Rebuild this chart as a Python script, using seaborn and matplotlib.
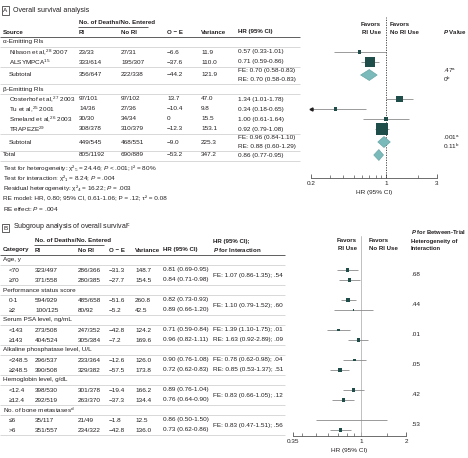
import matplotlib
matplotlib.use("Agg")
import matplotlib.pyplot as plt
import seaborn as sns
import numpy as np

# ── Panel A data (overall survival) ──
alpha_src = ["Nilsson et al,$^{28}$ 2007", "ALSYMPCA$^{15}$"]
alpha_ri = ["23/33", "333/614"]
alpha_nori = ["27/31", "195/307"]
alpha_oe = ["−6.6", "−37.6"]
alpha_var = [11.9, 110.0]
alpha_hr = [0.57, 0.71]
alpha_lo = [0.33, 0.59]
alpha_hi = [1.01, 0.86]
alpha_sub = ["356/647", "222/338", "−44.2", "121.9"]
alpha_fe = [0.70, 0.58, 0.83]
alpha_re = [0.70, 0.58, 0.83]
alpha_p = [".47$^\\mathrm{a}$", "0$^\\mathrm{b}$"]

beta_src = ["Oosterhof et al,$^{27}$ 2003", "Tu et al,$^{25}$ 2001",
            "Smeland et al,$^{26}$ 2003", "TRAPEZE$^{29}$"]
beta_ri = ["97/101", "14/36", "30/30", "308/378"]
beta_nori = ["97/102", "27/36", "34/34", "310/379"]
beta_oe = ["13.7", "−10.4", "0", "−12.3"]
beta_var = [47.0, 9.8, 15.5, 153.1]
beta_hr = [1.34, 0.34, 1.00, 0.92]
beta_lo = [1.01, 0.18, 0.61, 0.79]
beta_hi = [1.78, 0.65, 1.64, 1.08]
beta_sub = ["449/545", "468/551", "−9.0", "225.3"]
beta_fe = [0.96, 0.84, 1.10]
beta_re = [0.88, 0.60, 1.29]
beta_p = [".001$^\\mathrm{a}$", "0.11$^\\mathrm{b}$"]

total_row = ["805/1192", "690/889", "−53.2", "347.2"]
total_hr = [0.86, 0.77, 0.95]

a_notes = [
    "Test for heterogeneity: χ²₅ = 24.46; $P$ < .001; I² = 80%",
    "Test for interaction: χ²₁ = 8.24; $P$ = .004",
    "Residual heterogeneity: χ²₄ = 16.22; $P$ = .003",
    "RE model: HR, 0.80; 95% CI, 0.61-1.06; P = .12; τ² = 0.08",
    "RE effect: $P$ = .004",
]

# ── Panel B data (subgroups) ──
b_groups = ["Age, y", "Performance status score", "Serum PSA level, ng/mL",
            "Alkaline phosphatase level, U/L", "Hemoglobin level, g/dL",
            "No. of bone metastases$^\\mathrm{d}$"]
b_levels = ["<70", "≥70", "0-1", "≥2", "<143", "≥143", "<248.5", "≥248.5",
            "<12.4", "≥12.4", "≤6", ">6"]
b_ri = ["323/497", "371/558", "594/929", "100/125", "273/508", "404/524",
        "296/537", "390/508", "398/530", "292/519", "35/117", "351/557"]
b_nori = ["286/366", "280/385", "485/658", "80/92", "247/352", "305/384",
          "233/364", "329/382", "301/378", "263/370", "21/49", "234/322"]
b_oe = ["−31.3", "−27.7", "−51.6", "−5.2", "−42.8", "−7.2",
        "−12.6", "−57.5", "−19.4", "−37.3", "−1.8", "−42.8"]
b_var = [148.7, 154.5, 260.8, 42.5, 124.2, 169.6, 126.0, 173.8, 166.2, 134.4, 12.5, 136.0]
b_hr = [0.81, 0.84, 0.82, 0.89, 0.71, 0.96, 0.90, 0.72, 0.89, 0.76, 0.86, 0.73]
b_lo = [0.69, 0.71, 0.73, 0.66, 0.59, 0.82, 0.76, 0.62, 0.76, 0.64, 0.50, 0.62]
b_hi = [0.95, 0.98, 0.93, 1.20, 0.84, 1.11, 1.08, 0.83, 1.04, 0.90, 1.50, 0.86]
b_inter = [["FE: 1.07 (0.86-1.35); .54"], ["FE: 1.10 (0.79-1.52); .60"],
           ["FE: 1.39 (1.10-1.75); .01", "RE: 1.63 (0.92-2.89); .09"],
           ["FE: 0.78 (0.62-0.98); .04", "RE: 0.85 (0.53-1.37); .51"],
           ["FE: 0.83 (0.66-1.05); .12"], ["FE: 0.83 (0.47-1.51); .56"]]
b_phet = [".68", ".44", ".01", ".05", ".42", ".53"]

# ── style ──
sns.set_theme(style="white")
FONT = "Liberation Sans"
plt.rcParams["font.family"] = [FONT, "DejaVu Sans"]
plt.rcParams["mathtext.fontset"] = "custom"
plt.rcParams["mathtext.rm"] = FONT
plt.rcParams["mathtext.it"] = FONT + ":italic"
plt.rcParams["mathtext.bf"] = FONT + ":bold"
plt.rcParams["mathtext.bfit"] = FONT + ":italic:bold"

TXT = "#231f20"
SQ = "#1f4d4a"
DIA = "#7bbaba"
GRID = "#c9c9c9"
FS = 4.6     # body text
HFS = 4.4    # bold headers

W, H = 468, 458
fig = plt.figure(figsize=(W / 100, H / 100), dpi=100)
ax = fig.add_axes([0, 0, 1, 1])
ax.set_xlim(0, W)
ax.set_ylim(H, 0)
ax.axis("off")


def t(x, y, s, bold=False, ha="left", size=None):
    if size is None:
        size = HFS if bold else FS
    ax.text(x, y, s, fontsize=size, color=TXT, ha=ha, va="center",
            fontweight="bold" if bold else "normal")


def hline(y, x0, x1, dark=False):
    ax.plot([x0, x1], [y, y], color="#444444" if dark else GRID,
            lw=0.6 if dark else 0.5, solid_capstyle="butt")


def forest_ax(x0, x1, y0, y1):
    fa = fig.add_axes([x0 / W, 1 - y1 / H, (x1 - x0) / W, (y1 - y0) / H])
    fa.set_facecolor("none")
    for s in ["top", "right", "left"]:
        fa.spines[s].set_visible(False)
    fa.spines["bottom"].set_color("#555555")
    fa.spines["bottom"].set_linewidth(0.6)
    return fa


def style_axis(f, major, labels, minor):
    f.set_yticks([])
    f.set_xticks(major)
    f.set_xticklabels(labels)
    f.set_xticks(minor, minor=True)
    f.xaxis.set_minor_formatter(matplotlib.ticker.NullFormatter())
    f.tick_params(axis="x", which="major", direction="in", length=3, width=0.6,
                  color="#555555", labelsize=FS, labelcolor=TXT, pad=2.5, bottom=True)
    f.tick_params(axis="x", which="minor", direction="in", length=2, width=0.5,
                  color="#555555", bottom=True)
    f.set_xlabel("HR (95% CI)", fontsize=FS, color=TXT, labelpad=2.5)
    f.set_ylabel("")


def box_label(x, y, s):
    ax.text(x, y, s, fontsize=FS, color=TXT, ha="center", va="center",
            bbox=dict(boxstyle="square,pad=0.25", fc="white", ec=TXT, lw=0.5))


# ════════ Panel A ════════
box_label(5.5, 10.5, "A")
t(13, 10.5, "Overall survival analysis", size=5.0)
t(79, 22, "No. of Deaths/No. Entered", bold=True)
hline(27, 78, 148, dark=True)
cols_a = [79, 121, 167, 201]
for x, s in zip([3] + cols_a + [238], ["Source", "RI", "No RI", "O − E", "Variance", "HR (95% CI)"]):
    t(x, 32, s, bold=True)
t(443, 32, "$\\mathbfit{P}$ Value", bold=True)
t(381, 24, "Favors", bold=True, ha="right")
t(381, 32, "RI Use", bold=True, ha="right")
t(390, 24, "Favors", bold=True)
t(390, 32, "No RI Use", bold=True)
hline(37, 0, 300, dark=True)

a_rows_y, a_hr, a_lo, a_hi, a_var = [], [], [], [], []
blocks = [("α-Emitting RIs", 42, alpha_src, alpha_ri, alpha_nori, alpha_oe, alpha_var,
           alpha_hr, alpha_lo, alpha_hi, alpha_sub, alpha_fe, alpha_re, alpha_p),
          ("β-Emitting RIs", 89, beta_src, beta_ri, beta_nori, beta_oe, beta_var,
           beta_hr, beta_lo, beta_hi, beta_sub, beta_fe, beta_re, beta_p)]
diamonds = []
for (lab, y0, src, ri, nori, oe, var, hr, lo, hi, sub, fe, re, pv) in blocks:
    t(3, y0, lab)
    hline(y0 + 5, 0, 300)
    y = y0
    for i in range(len(src)):
        y = y0 + 10 * (i + 1)
        for x, s in zip([9] + cols_a + [238],
                        [src[i], ri[i], nori[i], oe[i], f"{var[i]:.1f}",
                         f"{hr[i]:.2f} ({lo[i]:.2f}-{hi[i]:.2f})"]):
            t(x, y, s)
        a_rows_y.append(y)
        a_hr.append(hr[i]); a_lo.append(lo[i]); a_hi.append(hi[i]); a_var.append(var[i])
    ys = y + 13
    hline(ys - 8.5, 0, 300)
    t(9, ys, "Subtotal")
    for x, s in zip(cols_a, sub):
        t(x, ys, s)
    t(238, ys - 4.5, f"FE: {fe[0]:.2f} ({fe[1]:.2f}-{fe[2]:.2f})")
    t(238, ys + 4.5, f"RE: {re[0]:.2f} ({re[1]:.2f}-{re[2]:.2f})")
    t(443, ys - 4.5, pv[0])
    t(443, ys + 4.5, pv[1])
    hline(ys + 8.5, 0, 300)
    diamonds.append((ys, fe))

yt = 155
t(3, yt, "Total")
for x, s in zip(cols_a, total_row):
    t(x, yt, s)
t(238, yt, f"{total_hr[0]:.2f} ({total_hr[1]:.2f}-{total_hr[2]:.2f})")
hline(yt + 6, 0, 300)
diamonds.append((yt, total_hr))

for i, s in enumerate(a_notes):
    t(3, 168 + 10.2 * i, s)

# forest A
axis_a = 178
fa = forest_ax(311, 437, 17, axis_a)
fa.set_xscale("log")
a_lo_c = np.clip(a_lo, 0.2, 3)
fa.hlines(a_rows_y, a_lo_c, a_hi, color="#8a8a8a", lw=0.6)
for y, lo in zip(a_rows_y, a_lo):
    if lo < 0.2:
        fa.plot(0.2, y, marker="<", ms=2.2, color=TXT, clip_on=False)
sns.scatterplot(x=a_hr, y=a_rows_y, s=0.5184 * np.array(a_var), marker="s",
                color=SQ, linewidth=0, ax=fa, legend=False, zorder=3)
for ys, (m, lo, hi) in diamonds:
    fa.fill([lo, m, hi, m], [ys, ys - 5.5, ys, ys + 5.5], fc=DIA, ec="#5f9f9f", lw=0.4, zorder=3)
fa.axvline(1, color="#333333", lw=0.6, ls=(0, (1.5, 1.5)))
fa.set_xlim(0.2, 3)
fa.set_ylim(axis_a, 17)
style_axis(fa, [0.2, 1, 3], ["0.2", "1", "3"], [0.3, 0.4, 0.5, 0.6, 0.7, 0.8, 0.9, 2])

# ════════ Panel B ════════
box_label(5.5, 228, "B")
t(13, 228, "Subgroup analysis of overall survival$^\\mathrm{c}$", size=5.0)
t(35, 240, "No. of Deaths/No. Entered", bold=True)
hline(245, 34, 104, dark=True)
cols_b = [35, 78, 109, 135, 163]
for x, s in zip([3] + cols_b, ["Category", "RI", "No RI", "O − E", "Variance", "HR (95% CI)"]):
    t(x, 250, s, bold=True)
t(213, 241, "HR (95% CI);", bold=True)
t(213, 250, "$\\mathbfit{P}$ for Interaction", bold=True)
t(357, 241, "Favors", bold=True, ha="right")
t(357, 249, "RI Use", bold=True, ha="right")
t(369, 241, "Favors", bold=True)
t(369, 249, "No RI Use", bold=True)
t(411, 232, "$\\mathbfit{P}$ for Between-Trial", bold=True, size=4.2)
t(411, 241, "Heterogeneity of", bold=True, size=4.2)
t(411, 249, "Interaction", bold=True, size=4.2)
hline(255, 0, 285, dark=True)

b_rows_y = []
for g, name in enumerate(b_groups):
    yg = 260 + 30 * g
    t(3, yg, name)
    hline(yg + 5, 0, 285)
    for k in range(2):
        i = 2 * g + k
        y = yg + 10 * (k + 1)
        b_rows_y.append(y)
        for x, s in zip([9] + cols_b,
                        [b_levels[i], b_ri[i], b_nori[i], b_oe[i], f"{b_var[i]:.1f}",
                         f"{b_hr[i]:.2f} ({b_lo[i]:.2f}-{b_hi[i]:.2f})"]):
            t(x, y, s)
    if len(b_inter[g]) == 1:
        t(213, yg + 15, b_inter[g][0])
    else:
        t(213, yg + 10, b_inter[g][0])
        t(213, yg + 20, b_inter[g][1])
    t(411, yg + 15, b_phet[g])
    hline(yg + 25, 0, 285)

axis_b = 436
fb = forest_ax(293, 406, 236, axis_b)
fb.set_xscale("log")
fb.axvline(1, color="#b5b5b5", lw=0.6)
fb.hlines(b_rows_y, b_lo, b_hi, color="#8a8a8a", lw=0.6)
sns.scatterplot(x=b_hr, y=b_rows_y, s=0.5184 * 0.07 * np.array(b_var), marker="s",
                color=SQ, linewidth=0, ax=fb, legend=False, zorder=3)
fb.set_xlim(0.35, 2)
fb.set_ylim(axis_b, 236)
style_axis(fb, [0.35, 1, 2], ["0.35", "1", "2"], [0.4, 0.5, 0.6, 0.7, 0.8, 0.9, 1.5])

fig.savefig("out.png", dpi=100)
